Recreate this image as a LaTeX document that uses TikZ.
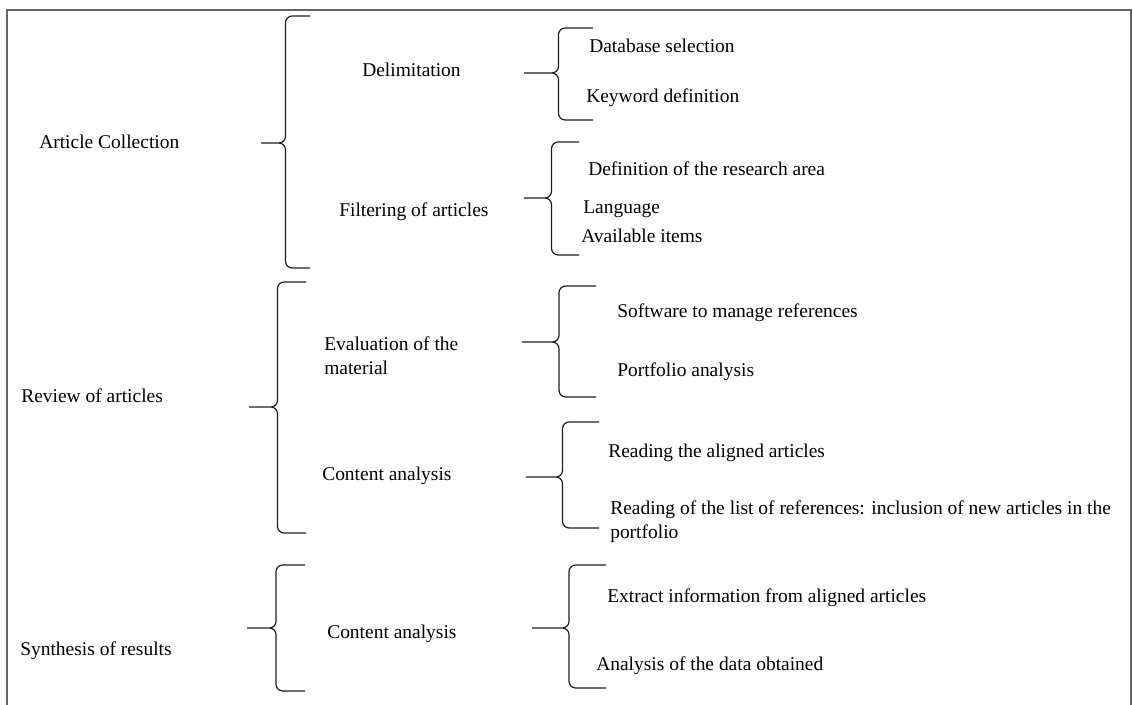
\documentclass[tikz,border=0pt]{standalone}
\usepackage{fontspec}
\setmainfont{Liberation Serif}
\usetikzlibrary{calc}

\begin{document}
\begin{tikzpicture}[x=0.75pt,y=0.75pt,yscale=-1,xscale=1,
  txt/.style={anchor=base west, inner sep=0pt, font=\fontsize{14.6pt}{18pt}\selectfont},
  curly/.style={line width=0.9pt, color={rgb, 255:red, 30; green, 30; blue, 30 }, rounded corners=5pt,
    to path={-- ($(\tikztostart)!0.5!(\tikztostart -| \tikztotarget)$) |- (\tikztotarget)}}]
\useasboundingbox (0,0) rectangle (1133,705);

%Shape: Frame
\draw [color={rgb, 255:red, 100; green, 100; blue, 100 }, line width=1.1pt] (7,706) -- (7,10) -- (1131,10) -- (1131,706) ;

% Text Node
\node [txt] (ac) at (39,149) {Article Collection};
% Text Node
\node [txt] (ra) at (21,403) {Review of articles};
% Text Node
\node [txt] (sr) at (20,656) {Synthesis of results};

% Text Node
\node [txt] (del) at (362,77) {Delimitation};
% Text Node
\node [txt] (fil) at (339,217) {Filtering of articles};
% Text Node
\node [txt, align=left] (eva) at (324,375) {Evaluation of the\\material};
% Text Node
\node [txt] (ca1) at (322,481) {Content analysis};
% Text Node
\node [txt] (ca2) at (327,639) {Content analysis};

% Text Node
\node [txt] (db) at (589,53) {Database selection};
% Text Node
\node [txt] (kw) at (586,103) {Keyword definition};
% Text Node
\node [txt] (dra) at (588,176) {Definition of the research area};
% Text Node
\node [txt] (lang) at (583,214) {Language};
% Text Node
\node [txt] (avail) at (581,243) {Available items};
% Text Node
\node [txt] (sw) at (617,318) {Software to manage references};
% Text Node
\node [txt] (pf) at (617,377) {Portfolio analysis};
% Text Node
\node [txt] (rda) at (608,458) {Reading the aligned articles};
% Text Node
\node [txt, align=left] (rdl) at (610,539) {Reading of the list of references: inclusion of new articles in the\\portfolio};
% Text Node
\node [txt] (ext) at (607,603) {Extract information from aligned articles};
% Text Node
\node [txt] (ana) at (596,671) {Analysis of the data obtained};

%Brace end points
\coordinate (ac top) at (310,16);   \coordinate (ac bot) at (310,268);  \coordinate (ac tip) at (261,143);
\coordinate (ra top) at (306,282);  \coordinate (ra bot) at (306,533);  \coordinate (ra tip) at (249,407);
\coordinate (sr top) at (305,565);  \coordinate (sr bot) at (305,691);  \coordinate (sr tip) at (247,628);
\coordinate (del top) at (593,28);  \coordinate (del bot) at (593,120); \coordinate (del tip) at (524,73);
\coordinate (fil top) at (579,142); \coordinate (fil bot) at (579,255); \coordinate (fil tip) at (524,198);
\coordinate (eva top) at (596,286); \coordinate (eva bot) at (596,397); \coordinate (eva tip) at (522,342);
\coordinate (ca1 top) at (599,422); \coordinate (ca1 bot) at (599,528); \coordinate (ca1 tip) at (526,477);
\coordinate (ca2 top) at (606,565); \coordinate (ca2 bot) at (606,688); \coordinate (ca2 tip) at (532,628);

%Shape: Brace
\draw [curly] (ac top) to (ac tip) (ac bot) to (ac tip) ;
%Shape: Brace
\draw [curly] (ra top) to (ra tip) (ra bot) to (ra tip) ;
%Shape: Brace
\draw [curly] (sr top) to (sr tip) (sr bot) to (sr tip) ;
%Shape: Brace
\draw [curly] (del top) to (del tip) (del bot) to (del tip) ;
%Shape: Brace
\draw [curly] (fil top) to (fil tip) (fil bot) to (fil tip) ;
%Shape: Brace
\draw [curly] (eva top) to (eva tip) (eva bot) to (eva tip) ;
%Shape: Brace
\draw [curly] (ca1 top) to (ca1 tip) (ca1 bot) to (ca1 tip) ;
%Shape: Brace
\draw [curly] (ca2 top) to (ca2 tip) (ca2 bot) to (ca2 tip) ;

\end{tikzpicture}
\end{document}
